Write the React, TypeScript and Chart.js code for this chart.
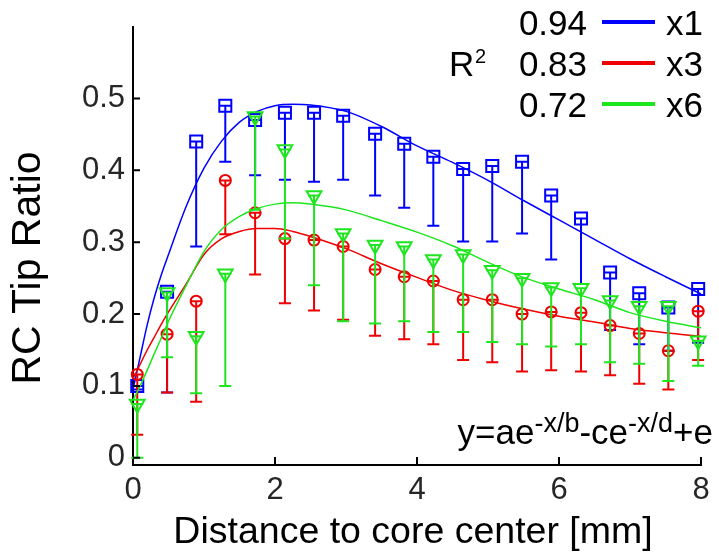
import React, { useEffect, useRef } from 'react';
import { Chart, registerables } from 'chart.js';

Chart.register(...registerables);

// ---- data ----
const xPositions = [0.06, 0.48, 0.89, 1.3, 1.72, 2.14, 2.55, 2.96, 3.41, 3.82, 4.23, 4.65, 5.06, 5.48, 5.89, 6.31, 6.72, 7.13, 7.54, 7.96];

const x1Values = [0.100, 0.231, 0.440, 0.490, 0.470, 0.480, 0.480, 0.476, 0.451, 0.437, 0.419, 0.402, 0.406, 0.412, 0.365, 0.333, 0.258, 0.229, 0.209, 0.235];
const x1Lower = [0.095, 0.091, 0.294, 0.412, 0.393, 0.387, 0.384, 0.387, 0.365, 0.348, 0.323, 0.301, 0.301, 0.312, 0.276, 0.242, 0.178, 0.158, 0.149, 0.160];

const x3Values = [0.116, 0.172, 0.218, 0.386, 0.341, 0.305, 0.303, 0.294, 0.262, 0.252, 0.246, 0.220, 0.220, 0.200, 0.203, 0.202, 0.184, 0.173, 0.149, 0.204];
const x3Lower = [0.032, 0.091, 0.078, 0.311, 0.255, 0.215, 0.205, 0.192, 0.170, 0.165, 0.158, 0.136, 0.133, 0.120, 0.122, 0.120, 0.115, 0.103, 0.095, 0.136];

const x6Values = [0.075, 0.230, 0.169, 0.256, 0.475, 0.429, 0.365, 0.312, 0.296, 0.294, 0.276, 0.283, 0.261, 0.250, 0.237, 0.236, 0.219, 0.211, 0.211, 0.163];
const x6Lower = [0.000, 0.140, 0.090, 0.100, 0.345, 0.305, 0.240, 0.190, 0.187, 0.190, 0.175, 0.175, 0.161, 0.158, 0.155, 0.158, 0.133, 0.131, 0.107, 0.128];

const fitX = [0, 0.1, 0.2, 0.3, 0.4, 0.5, 0.75, 1, 1.25, 1.5, 1.75, 2, 2.25, 2.5, 3, 3.5, 4, 4.5, 5, 5.5, 6, 6.5, 7, 7.5, 8];
const x1Fit = [0.095, 0.140, 0.185, 0.223, 0.255, 0.283, 0.350, 0.403, 0.441, 0.467, 0.482, 0.490, 0.492, 0.491, 0.482, 0.461, 0.434, 0.411, 0.386, 0.358, 0.331, 0.304, 0.277, 0.252, 0.228];
const x3Fit = [0.110, 0.130, 0.150, 0.168, 0.186, 0.203, 0.242, 0.283, 0.305, 0.315, 0.319, 0.319, 0.315, 0.308, 0.291, 0.270, 0.251, 0.233, 0.219, 0.207, 0.197, 0.189, 0.180, 0.174, 0.169];
const x6Fit = [0.080, 0.100, 0.122, 0.145, 0.167, 0.190, 0.240, 0.287, 0.318, 0.336, 0.347, 0.353, 0.355, 0.353, 0.345, 0.330, 0.314, 0.295, 0.272, 0.251, 0.235, 0.220, 0.202, 0.190, 0.181];

const seriesLabels = ['x1', 'x3', 'x6'];
const rSquaredLabels = ['0.94', '0.83', '0.72'];
const xTickValues = [0, 2, 4, 6, 8];
const yTickValues = [0, 0.1, 0.2, 0.3, 0.4, 0.5];
const xAxisTitle = 'Distance to core center [mm]';
const yAxisTitle = 'RC Tip Ratio';

// ---- styles ----
const BLUE = '#0000ff';
const RED = '#ee0000';
const GREEN = '#1ee61e';
const COLORS = [BLUE, RED, GREEN];
const FONT = '"Liberation Sans", Arial, Helvetica, sans-serif';

const toPoints = (xs: number[], ys: number[]) => xs.map((x, i) => ({ x, y: ys[i] }));

const errorBarPlugin = {
  id: 'errorBars',
  beforeDatasetDraw(chart: any, args: any) {
    const ds = chart.data.datasets[args.index];
    if (!ds.lower) return;
    const xs = chart.scales.x;
    const ys = chart.scales.y;
    const ctx = chart.ctx;
    ctx.save();
    ctx.strokeStyle = ds.pointBorderColor;
    ctx.lineWidth = 2;
    ds.data.forEach((p: any, i: number) => {
      const px = xs.getPixelForValue(p.x);
      const top = ys.getPixelForValue(p.y);
      const bot = ys.getPixelForValue(ds.lower[i]);
      ctx.beginPath();
      ctx.moveTo(px, top);
      ctx.lineTo(px, bot);
      ctx.moveTo(px - 6, top);
      ctx.lineTo(px + 6, top);
      ctx.moveTo(px - 6, bot);
      ctx.lineTo(px + 6, bot);
      ctx.stroke();
    });
    ctx.restore();
  },
};

const decorPlugin = {
  id: 'decor',
  afterDraw(chart: any) {
    const ctx = chart.ctx;
    const xs = chart.scales.x;
    const ys = chart.scales.y;
    const area = chart.chartArea;
    ctx.save();
    // inward tick marks
    ctx.strokeStyle = '#000';
    ctx.lineWidth = 2;
    ctx.beginPath();
    xTickValues.forEach((v) => {
      if (v === 0) return;
      const px = xs.getPixelForValue(v);
      ctx.moveTo(px, area.bottom);
      ctx.lineTo(px, area.bottom - 8);
    });
    yTickValues.forEach((v) => {
      const py = ys.getPixelForValue(v);
      ctx.moveTo(area.left, py);
      ctx.lineTo(area.left + 7, py);
    });
    ctx.stroke();

    // legend with R^2
    ctx.fillStyle = '#000';
    ctx.font = `35px ${FONT}`;
    ctx.textBaseline = 'alphabetic';
    const rowBase = [35, 76, 117];
    seriesLabels.forEach((lab, i) => {
      ctx.textAlign = 'right';
      ctx.fillText(rSquaredLabels[i], 587, rowBase[i]);
      ctx.textAlign = 'left';
      ctx.fillText(lab, 666, rowBase[i]);
      ctx.strokeStyle = COLORS[i];
      ctx.lineWidth = 4;
      ctx.beginPath();
      ctx.moveTo(602, rowBase[i] - 13);
      ctx.lineTo(655, rowBase[i] - 13);
      ctx.stroke();
    });
    ctx.textAlign = 'left';
    ctx.font = `35px ${FONT}`;
    ctx.fillText('R', 449, 76);
    ctx.font = `20px ${FONT}`;
    ctx.fillText('2', 475, 63);

    // equation
    const parts = [
      { t: 'y=ae', sup: false },
      { t: '-x/b', sup: true },
      { t: '-ce', sup: false },
      { t: '-x/d', sup: true },
      { t: '+e', sup: false },
    ];
    const mainFont = `35px ${FONT}`;
    const supFont = `27px ${FONT}`;
    let total = 0;
    parts.forEach((p) => {
      ctx.font = p.sup ? supFont : mainFont;
      total += ctx.measureText(p.t).width;
    });
    let cx = 713 - total;
    parts.forEach((p) => {
      ctx.font = p.sup ? supFont : mainFont;
      ctx.fillText(p.t, cx, p.sup ? 432 : 444);
      cx += ctx.measureText(p.t).width;
    });

    // axis titles
    ctx.font = `37.5px ${FONT}`;
    ctx.textAlign = 'center';
    ctx.fillText(xAxisTitle, 413, 543);
    ctx.save();
    ctx.translate(40, 268);
    ctx.rotate(-Math.PI / 2);
    ctx.font = `41px ${FONT}`;
    ctx.fillText(yAxisTitle, 0, 0);
    ctx.restore();

    ctx.restore();
  },
};

function makeMarkers(values: number[], lower: number[], color: string, style: string, radius: number, rotation: number, order: number) {
  return {
    data: toPoints(xPositions, values),
    lower,
    showLine: false,
    pointStyle: style,
    pointRadius: radius,
    pointRotation: rotation,
    pointBorderColor: color,
    pointBackgroundColor: 'rgba(0,0,0,0)',
    pointBorderWidth: 2,
    borderColor: color,
    clip: false,
    order,
  };
}

function makeFit(values: number[], color: string, order: number) {
  return {
    data: toPoints(fitX, values),
    showLine: true,
    pointRadius: 0,
    borderColor: color,
    borderWidth: 1.5,
    cubicInterpolationMode: 'monotone',
    fill: false,
    clip: false,
    order,
  };
}

export default function App() {
  const canvasRef = useRef<HTMLCanvasElement | null>(null);

  useEffect(() => {
    if (!canvasRef.current) return;
    const chart = new Chart(canvasRef.current, {
      type: 'scatter',
      data: {
        datasets: [
          makeFit(x1Fit, BLUE, 6),
          makeMarkers(x1Values, x1Lower, BLUE, 'rect', 8.5, 0, 5),
          makeFit(x3Fit, RED, 4),
          makeMarkers(x3Values, x3Lower, RED, 'circle', 5.5, 0, 3),
          makeFit(x6Fit, GREEN, 2),
          makeMarkers(x6Values, x6Lower, GREEN, 'triangle', 8.5, 180, 1),
        ] as any,
      },
      options: {
        animation: false,
        responsive: false,
        events: [],
        layout: { padding: { top: 8, right: 18, left: 0, bottom: 0 } },
        plugins: { legend: { display: false }, tooltip: { enabled: false } },
        scales: {
          x: {
            type: 'linear',
            min: 0,
            max: 8,
            afterBuildTicks: (axis: any) => {
              axis.ticks = xTickValues.map((v) => ({ value: v }));
            },
            afterFit: (s: any) => {
              s.height = 92;
            },
            grid: { display: false, drawTicks: false },
            border: { display: true, color: '#000', width: 2 },
            ticks: { font: { family: FONT, size: 31 }, color: '#262626', padding: 7, maxRotation: 0 },
          },
          y: {
            type: 'linear',
            min: -0.01,
            max: 0.6,
            afterBuildTicks: (axis: any) => {
              axis.ticks = yTickValues.map((v) => ({ value: v }));
            },
            afterFit: (s: any) => {
              s.width = 133;
            },
            grid: { display: false, drawTicks: false },
            border: { display: true, color: '#000', width: 2 },
            ticks: {
              font: { family: FONT, size: 31 },
              color: '#262626',
              padding: 8,
              callback: (v: any) => String(Math.round(Number(v) * 10) / 10),
            },
          },
        },
      } as any,
      plugins: [errorBarPlugin, decorPlugin],
    });
    return () => chart.destroy();
  }, []);

  return (
    <div style={{ position: 'absolute', left: 0, top: 0, width: 719, height: 557, background: '#fff' }}>
      <canvas ref={canvasRef} width={719} height={557} style={{ display: 'block' }} />
    </div>
  );
}
